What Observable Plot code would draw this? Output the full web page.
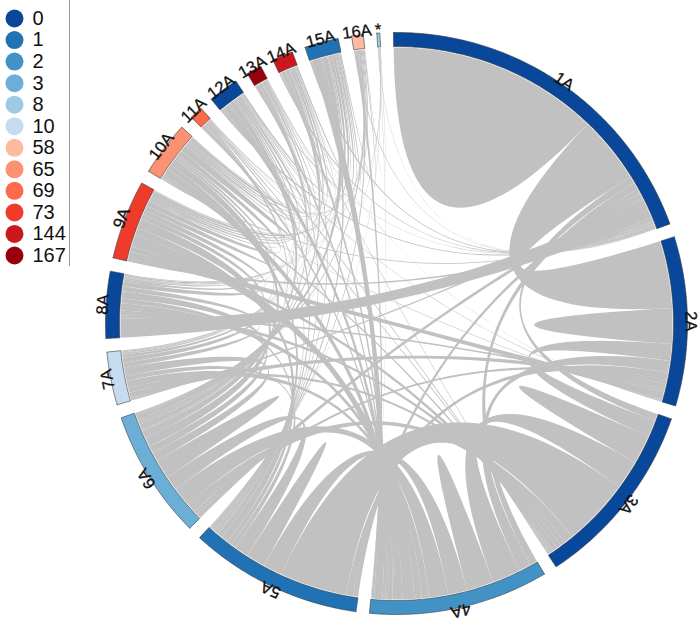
<!DOCTYPE html>
<html><head><meta charset="utf-8">
<script src="https://cdn.jsdelivr.net/npm/d3@7"></script>
<script src="https://cdn.jsdelivr.net/npm/@observablehq/plot@0.6"></script>
<style>
body{margin:0;background:#fff;font-family:"Liberation Sans",Arial,sans-serif}
#wrap{position:relative;width:700px;height:624px}
#legend{position:absolute;left:0;top:0;width:69px;height:266px;border-right:1px solid #9a9a9a}
</style></head><body>
<div id="wrap"><div id="chart"></div><div id="legend"></div></div>
<script>
// ---- data ----
const sectors = ["1A","2A","3A","4A","5A","6A","7A","8A","9A","10A","11A","12A","13A","14A","15A","16A","*"];
const sectorClass = [0,0,0,2,1,3,10,0,73,65,69,0,167,144,1,58,8];
const legendLabels = [0,1,2,3,8,10,58,65,69,73,144,167];
const legendColors = ["#08479a","#2171b5","#4292c6","#6baed6","#9ecae1","#c6dbef","#fcbba1","#fc9272","#fb6a4a","#ef3b2c","#cb181d","#99000d"];
const linkFrom = [
 "1A","1A","1A","1A","1A","1A","1A","1A","1A","1A","1A","1A","1A","1A","1A","1A",
 "2A","2A","2A","2A","2A","2A","2A","2A","2A","2A","2A",
 "3A","3A","3A","3A","3A","3A","3A","3A","3A","3A","3A",
 "4A","4A","4A","4A","4A","4A","4A","4A","4A","4A","4A","4A","4A","4A",
 "5A","5A","5A","5A","5A","5A","5A","5A","5A","5A","5A","5A","5A",
 "6A","6A","6A","6A","6A","6A","6A","6A","6A","6A","6A","6A",
 "7A","7A","7A","7A","7A","7A","7A",
 "8A","8A","8A","8A","8A","8A","8A",
 "9A","9A","9A","9A","9A","9A","9A","9A","9A",
 "10A","10A","10A","10A","10A","10A","10A",
 "11A","11A","11A",
 "12A","12A","12A",
 "13A","13A",
 "14A","15A","16A"];
const linkTo = [
 "1A","2A","3A","4A","5A","6A","7A","8A","9A","10A","12A","13A","14A","15A","16A","*",
 "2A","3A","4A","5A","6A","7A","8A","9A","10A","12A","14A",
 "3A","4A","5A","6A","7A","8A","9A","10A","11A","12A","14A",
 "4A","5A","6A","7A","8A","9A","10A","11A","12A","13A","14A","15A","16A","*",
 "5A","6A","7A","8A","9A","10A","11A","12A","13A","14A","15A","16A","*",
 "6A","7A","8A","9A","10A","11A","12A","13A","14A","15A","16A","*",
 "8A","9A","10A","12A","13A","14A","15A",
 "9A","10A","12A","13A","14A","15A","16A",
 "9A","10A","11A","12A","13A","14A","15A","16A","*",
 "10A","11A","12A","13A","14A","15A","16A",
 "12A","14A","15A",
 "13A","14A","15A",
 "14A","15A",
 "15A","16A","*"];
const linkValue = [
 22,14,1.5,1.5,1,1,0.5,4,0.6,0.3,0.4,0.2,0.3,0.4,0.2,0.1,
 3.7,3.5,2.5,1.5,0.8,1.2,0.6,1.5,0.2,0.2,0.1,
 3,6,14,2,1,1,1,0.5,0.3,0.3,0.2,
 2.8,4,4,1.5,1.5,2.5,1.5,0.5,1,0.5,0.6,1.8,0.5,0.1,
 2,3,1,1,1.5,1,0.3,0.5,0.3,0.3,0.5,0.3,0.1,
 2,1.8,1.5,2,1.5,0.4,1,0.5,0.6,1,0.4,0.1,
 1,1,0.6,0.3,0.2,0.2,0.2,
 1,0.5,0.3,0.1,0.2,0.3,0.2,
 0.5,1,0.3,0.5,0.4,0.5,0.6,0.2,0.1,
 0.7,0.3,0.5,0.3,0.4,0.6,0.2,
 0.2,0.1,0.2,
 0.2,0.2,0.4,
 0.1,0.2,
 0.3,0.2,0.1];

// ---- layout (circular, circlize-like) ----
const START = -0.6, GAP = 2.68;
const R_OUT = 291, R_IN = 277, R_LINK = 276, R_LABEL = 289;
const n = sectors.length;
const idx = new Map(sectors.map((s,i)=>[s,i]));
const ends = sectors.map(()=>[]);
linkFrom.forEach((f,k)=>{
  const a = idx.get(f), b = idx.get(linkTo[k]), v = linkValue[k];
  ends[a].push({link:k, partner:b, v, side:0});
  ends[b].push({link:k, partner:a, v, side:1});
});
const grand = d3.sum(ends, e=>d3.sum(e, d=>d.v));
const unit = (360 - GAP*n)/grand;
const linkEnds = linkFrom.map(()=>[null,null]);
const sectorArc = [];
let ang = START;
ends.forEach((list,i)=>{
  list.sort((p,q)=> p.partner - q.partner || p.side - q.side);
  const a0 = ang; let a = a0;
  for (const e of list){ const w = e.v*unit; linkEnds[e.link][e.side] = [a, a+w]; a += w; }
  sectorArc.push([a0, a]);
  ang = a + GAP;
});
const rad = d=>d*Math.PI/180;
const pt = (r,d)=>[r*Math.sin(rad(d)), -r*Math.cos(rad(d))];
function arcPts(r,a0,a1){
  const m = Math.max(2, Math.ceil(Math.abs(a1-a0)/0.5));
  return d3.range(m+1).map(i=>pt(r, a0+(a1-a0)*i/m));
}
function bez(p0,p1){
  return d3.range(41).map(i=>{const t=i/40, u=1-t; return [u*u*p0[0]+t*t*p1[0], u*u*p0[1]+t*t*p1[1]];});
}
const chordPts = [];
linkEnds.forEach(([s,t],k)=>{
  const pts = [
    ...arcPts(R_LINK, s[0], s[1]),
    ...bez(pt(R_LINK,s[1]), pt(R_LINK,t[0])),
    ...arcPts(R_LINK, t[0], t[1]),
    ...bez(pt(R_LINK,t[1]), pt(R_LINK,s[0]))
  ];
  pts.forEach(p=>chordPts.push({id:k, x:p[0], y:p[1]}));
});
const ringPts = [];
sectorArc.forEach(([a0,a1],i)=>{
  const pts = [...arcPts(R_OUT,a0,a1), ...arcPts(R_IN,a1,a0)];
  pts.push(pts[0]);
  pts.forEach(p=>ringPts.push({id:i, cls:sectorClass[i], x:p[0], y:p[1]}));
});
const labels = sectors.map((s,i)=>{
  const m = (sectorArc[i][0]+sectorArc[i][1])/2; const p = pt(R_LABEL, m);
  return {text:s, x:p[0], y:p[1], rot:m};
});

const color = {type:"ordinal", domain:legendLabels, range:legendColors};
const chart = Plot.plot({
  width:700, height:624, margin:0,
  x:{domain:[-396,304], range:[0,700], axis:null},
  y:{domain:[-323,301], range:[0,624], axis:null},
  color,
  style:{fontFamily:'"Liberation Sans",Arial,sans-serif', background:"transparent"},
  marks:[
    Plot.line(chordPts, {x:"x", y:"y", z:"id", fill:"#c1c1c1", stroke:"none", curve:"linear"}),
    Plot.line(ringPts, {x:"x", y:"y", z:"id", fill:"cls", stroke:"#3a3a3a", strokeWidth:0.6, curve:"linear"}),
    Plot.text(labels, {x:"x", y:"y", text:"text", rotate:"rot", lineAnchor:"bottom", fontSize:16.5, fill:"#111", stroke:"#111", strokeWidth:0.3})
  ]
});
document.getElementById("chart").appendChild(chart);

const legend = Plot.plot({
  width:69, height:266, margin:0,
  y:{domain:[0,legendLabels.length-1], range:[18,255], axis:null},
  color,
  style:{fontFamily:'"Liberation Sans",Arial,sans-serif', background:"transparent"},
  marks:[
    Plot.dot(legendLabels, {y:(d,i)=>i, fill:d=>d, r:9, frameAnchor:"left", dx:14}),
    Plot.text(legendLabels, {y:(d,i)=>i, text:d=>String(d), frameAnchor:"left", dx:32, textAnchor:"start", fontSize:20, fill:"#111"})
  ]
});
document.getElementById("legend").appendChild(legend);
</script>
</body></html>
